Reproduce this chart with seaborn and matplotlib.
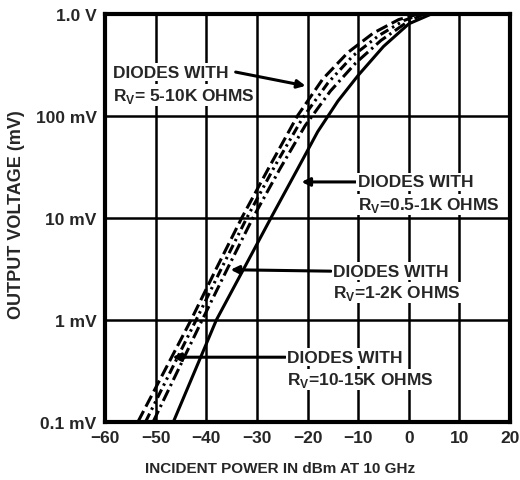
import numpy as np
import pandas as pd
import matplotlib
matplotlib.use("Agg")
import matplotlib.pyplot as plt
import seaborn as sns

# ---- data ----
s_510k_x = [-53.5, -43, -38, -33, -27.5, -22, -17, -12, -7, -2, 2]
s_510k_y = [0.1, 1, 3.2, 10, 32, 100, 230, 420, 650, 880, 1000]

s_1015k_x = [-52, -42, -37, -32, -26.5, -21, -16, -11, -6, -1, 2.5]
s_1015k_y = [0.1, 1, 3.2, 10, 32, 95, 210, 390, 610, 860, 1000]

s_12k_x = [-50.5, -40.8, -35.8, -30.8, -25.5, -20.5, -15.5, -10.5, -5.5, -0.5, 3]
s_12k_y = [0.1, 1, 3.2, 10, 30, 80, 175, 330, 550, 820, 1000]

s_051k_x = [-46.5, -38, -32, -27, -22, -18, -14, -10, -5, 0, 4.5]
s_051k_y = [0.1, 1, 3.6, 10.5, 30, 70, 140, 250, 480, 800, 1000]

series_names = ["5-10K", "10-15K", "1-2K", "0.5-1K"]

x_ticks = [-60, -50, -40, -30, -20, -10, 0, 10, 20]
x_tick_labels = ["\u221260", "\u221250", "\u221240", "\u221230", "\u221220", "\u221210", "0", "10", "20"]
y_ticks = [0.1, 1, 10, 100, 1000]
y_tick_labels = ["0.1 mV", "1 mV", "10 mV", "100 mV", "1.0 V"]

frames = []
for name, xs, ys in zip(series_names,
                        [s_510k_x, s_1015k_x, s_12k_x, s_051k_x],
                        [s_510k_y, s_1015k_y, s_12k_y, s_051k_y]):
    frames.append(pd.DataFrame({"dBm": xs, "mV": ys, "series": name}))
df = pd.concat(frames, ignore_index=True)

sns.set_theme(style="white")
plt.rcParams["font.family"] = ["Liberation Sans", "DejaVu Sans"]
plt.rcParams["mathtext.fontset"] = "custom"
plt.rcParams["mathtext.bf"] = "Liberation Sans:bold"
plt.rcParams["mathtext.rm"] = "Liberation Sans:bold"

fig = plt.figure(figsize=(5.2, 4.81), dpi=100)
ax = fig.add_axes([0.202, 0.121, 0.779, 0.848])

dashes = {"5-10K": (4, 1.6), "10-15K": (3, 1.4, 0.8, 1.4, 0.8, 1.4),
          "1-2K": (4, 1.4, 0.8, 1.4), "0.5-1K": ""}
sns.lineplot(data=df, x="dBm", y="mV", style="series", dashes=dashes,
             color="black", linewidth=2.2, legend=False, sort=False,
             estimator=None, ax=ax, zorder=3)

ax.set_yscale("log")
ax.set_xlim(-60, 20)
ax.set_ylim(0.1, 1000)
ax.set_xticks(x_ticks)
ax.set_xticklabels(x_tick_labels)
ax.set_yticks(y_ticks)
ax.set_yticklabels(y_tick_labels)
ax.yaxis.set_minor_locator(matplotlib.ticker.NullLocator())
ax.tick_params(length=0, labelsize=12.5, pad=6)
for lab in ax.get_xticklabels() + ax.get_yticklabels():
    lab.set_fontweight("bold")

ax.grid(True, color="black", linewidth=1.8, zorder=1)
for sp in ax.spines.values():
    sp.set_linewidth(3)
    sp.set_color("black")

ax.set_xlabel("INCIDENT POWER IN dBm AT 10 GHz", fontsize=11, fontweight="bold")
ax.xaxis.set_label_coords(0.431, -0.095)
ax.set_ylabel("OUTPUT VOLTAGE (mV)", fontsize=13, fontweight="bold")
ax.yaxis.set_label_coords(-0.197, 0.51)

bbox = dict(facecolor="white", edgecolor="none", pad=1.0)
arrow = dict(arrowstyle="-|>", lw=2.2, color="black", mutation_scale=12, shrinkA=0, shrinkB=0)
tk = dict(fontsize=12.5, fontweight="bold", va="center", ha="left", zorder=5, bbox=bbox)

# label 1 : 5-10K
ax.text(-58.4, 269, "DIODES WITH", **tk)
ax.text(-58.4, 160, r"R$_\mathbf{V}$= 5-10K OHMS", **tk)
ax.annotate("", xy=(-20.4, 197), xytext=(-34.2, 269), arrowprops=arrow, zorder=4)

# label 2 : 0.5-1K
ax.text(-10.1, 22.5, "DIODES WITH", **tk)
ax.text(-10.1, 13.5, r"R$_\mathbf{V}$=0.5-1K OHMS", **tk)
ax.annotate("", xy=(-21.2, 22.5), xytext=(-10.5, 22.5), arrowprops=arrow, zorder=4)

# label 3 : 1-2K
ax.text(-15.0, 3.0, "DIODES WITH", **tk)
ax.text(-15.0, 1.85, r"R$_\mathbf{V}$=1-2K OHMS", **tk)
ax.annotate("", xy=(-35.2, 3.1), xytext=(-15.4, 3.0), arrowprops=arrow, zorder=4)

# label 4 : 10-15K
ax.text(-24.0, 0.43, "DIODES WITH", **tk)
ax.text(-24.0, 0.26, r"R$_\mathbf{V}$=10-15K OHMS", **tk)
ax.annotate("", xy=(-46.7, 0.43), xytext=(-24.4, 0.43), arrowprops=arrow, zorder=4)

fig.savefig("out.png", dpi=100, facecolor="white")
